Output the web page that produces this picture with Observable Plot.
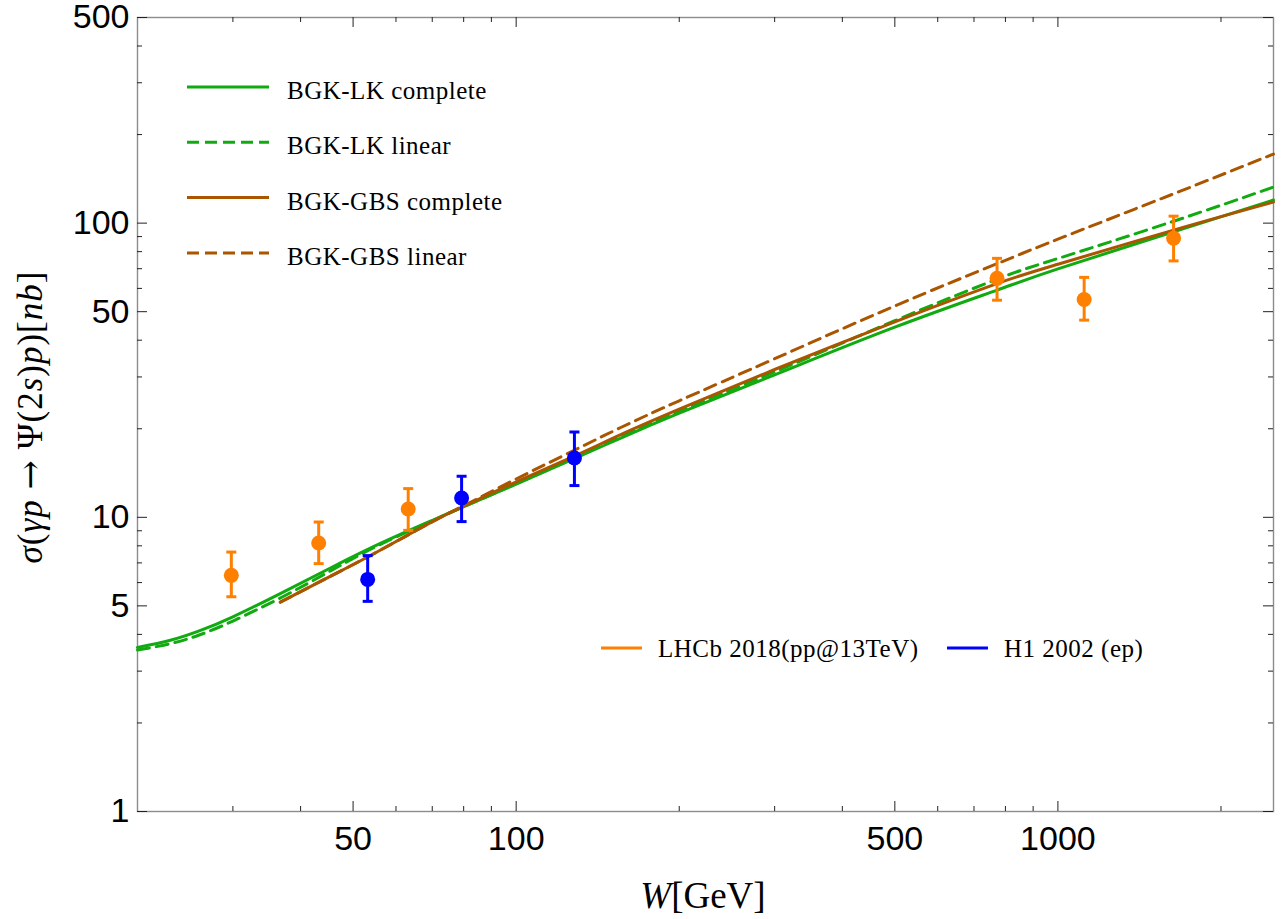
<!DOCTYPE html>
<html>
<head>
<meta charset="utf-8">
<script src="https://cdn.jsdelivr.net/npm/d3@7"></script>
<script src="https://cdn.jsdelivr.net/npm/@observablehq/plot@0.6"></script>
<style>
  body { margin: 0; background: #fff; }
  svg { display: block; }
</style>
</head>
<body>
<div id="chart"></div>
<script>
// Tick positions (W in GeV, sigma in nb)
const xMajorTicks = [50, 100, 500, 1000];
const xMinorTicks = [30, 40, 60, 70, 80, 90, 200, 300, 400, 600, 700, 800, 900, 2000];
const yMajorTicks = [1, 5, 10, 50, 100, 500];
const yMinorTicks = [2, 3, 4, 6, 7, 8, 9, 20, 30, 40, 60, 70, 80, 90, 200, 300, 400];

// LHCb 2018 (pp @ 13 TeV) measurements
const lhcbW = [29.8, 43.2, 63.2, 772, 1118, 1635];
const lhcbSigma = [6.35, 8.18, 10.67, 64.9, 55.0, 88.9];
const lhcbLow = [5.37, 6.96, 9.03, 54.7, 46.8, 74.4];
const lhcbHigh = [7.62, 9.64, 12.52, 75.9, 65.4, 105.6];

// H1 2002 (ep) measurements
const h1W = [53.2, 79.3, 128.1];
const h1Sigma = [6.15, 11.63, 15.91];
const h1Low = [5.18, 9.67, 12.82];
const h1High = [7.41, 13.79, 19.5];

// BGK-LK model curves
const lkW = [20, 23, 26, 30, 37, 45.6, 56.4, 70.6, 79.3, 100, 128, 156, 200, 300, 500, 772, 1000, 1635, 2500];
const lkComplete = [3.61, 3.82, 4.11, 4.59, 5.55, 6.75, 8.18, 9.83, 10.79, 12.96, 15.82, 18.6, 22.6, 30.5, 44.3, 59.2, 69.9, 93.4, 119.8];
const lkLinear = [3.54, 3.72, 3.98, 4.44, 5.36, 6.60, 8.12, 9.80, 10.79, 13.0, 15.9, 18.75, 22.9, 31.2, 46.6, 64.5, 75.8, 101.5, 132.6];

// BGK-GBS model curves
const gbsW = [36.7, 45, 53.2, 62, 72.2, 80, 100, 128, 156, 200, 300, 500, 772, 1000, 1635, 2500];
const gbsComplete = [5.15, 6.25, 7.33, 8.55, 9.95, 10.9, 13.2, 16.15, 19.1, 23.3, 31.8, 46.2, 62.3, 72.5, 94.7, 117.9];
const gbsLinear = [5.15, 6.25, 7.33, 8.55, 9.95, 10.95, 13.5, 16.9, 20.2, 24.9, 34.6, 52.3, 72.8, 88.2, 125.8, 171.7];

const green = "#11aa11";
const brown = "#aa5500";
const orange = "#ff8000";
const blue = "#0000ff";
const serif = "'Liberation Serif', 'DejaVu Serif', serif";

const W = 1284, H = 919;
const margin = {left: 137, right: 11, top: 17, bottom: 108};
const frameW = W - margin.left - margin.right;
const frameH = H - margin.top - margin.bottom;

const curve = (ws, vs) => ws.map((w, i) => ({w, s: vs[i]}));
const points = (ws, vs, lo, hi) => ws.map((w, i) => ({w, s: vs[i], lo: lo[i], hi: hi[i]}));

const lhcb = points(lhcbW, lhcbSigma, lhcbLow, lhcbHigh);
const h1 = points(h1W, h1Sigma, h1Low, h1High);

// horizontal cap used at the ends of the error bars
const cap = {
  draw(context, size) {
    const r = Math.sqrt(size / Math.PI);
    context.moveTo(-r, 0);
    context.lineTo(r, 0);
  }
};

const errorMarks = (data, color) => [
  Plot.ruleX(data, {x: "w", y1: "lo", y2: "hi", stroke: color, strokeWidth: 3}),
  Plot.dot(data, {x: "w", y: "lo", symbol: cap, r: 5, stroke: color, strokeWidth: 3, fill: "none"}),
  Plot.dot(data, {x: "w", y: "hi", symbol: cap, r: 5, stroke: color, strokeWidth: 3, fill: "none"}),
  Plot.dot(data, {x: "w", y: "s", r: 7.5, fill: color, stroke: "none"})
];

const chart = Plot.plot({
  width: W,
  height: H,
  marginLeft: margin.left,
  marginRight: margin.right,
  marginTop: margin.top,
  marginBottom: margin.bottom,
  style: {fontFamily: "'Liberation Sans', Arial, sans-serif", background: "#fff", color: "#000"},
  x: {type: "log", domain: [20, 2500]},
  y: {type: "log", domain: [1, 500]},
  marks: [
    Plot.frame({stroke: "#8c8c8c", strokeWidth: 1.4}),
    // inward ticks on all four sides
    Plot.tickY(yMajorTicks, {y: d => d, insetRight: frameW - 10, stroke: "#222"}),
    Plot.tickY(yMinorTicks, {y: d => d, insetRight: frameW - 5, stroke: "#222"}),
    Plot.tickY(yMajorTicks, {y: d => d, insetLeft: frameW - 10, stroke: "#222"}),
    Plot.tickY(yMinorTicks, {y: d => d, insetLeft: frameW - 5, stroke: "#222"}),
    Plot.tickX(xMajorTicks, {x: d => d, insetTop: frameH - 10, stroke: "#222"}),
    Plot.tickX(xMinorTicks, {x: d => d, insetTop: frameH - 5, stroke: "#222"}),
    Plot.tickX(xMajorTicks, {x: d => d, insetBottom: frameH - 10, stroke: "#222"}),
    Plot.tickX(xMinorTicks, {x: d => d, insetBottom: frameH - 5, stroke: "#222"}),
    Plot.axisX(xMajorTicks, {tickSize: 0, tickPadding: 14, fontSize: 34, label: null, tickFormat: d => String(d)}),
    Plot.axisY(yMajorTicks, {tickSize: 0, tickPadding: 8, fontSize: 34, label: null, tickFormat: d => String(d)}),
    // model curves
    Plot.line(curve(lkW, lkLinear), {x: "w", y: "s", stroke: green, strokeWidth: 3, strokeDasharray: "12,7", curve: "natural"}),
    Plot.line(curve(lkW, lkComplete), {x: "w", y: "s", stroke: green, strokeWidth: 3, curve: "natural"}),
    Plot.line(curve(gbsW, gbsLinear), {x: "w", y: "s", stroke: brown, strokeWidth: 3, strokeDasharray: "12,7", curve: "natural"}),
    Plot.line(curve(gbsW, gbsComplete), {x: "w", y: "s", stroke: brown, strokeWidth: 3, curve: "natural"}),
    // measurements
    ...errorMarks(lhcb, orange),
    ...errorMarks(h1, blue)
  ]
});

document.getElementById("chart").append(chart);

const svg = d3.select(chart);

// model legend (upper left)
const modelLegend = [
  {label: "BGK-LK complete", color: green, dash: null},
  {label: "BGK-LK linear", color: green, dash: "12,6"},
  {label: "BGK-GBS complete", color: brown, dash: null},
  {label: "BGK-GBS linear", color: brown, dash: "12,6"}
];
const lg = svg.append("g").attr("font-family", serif).attr("font-size", 25)
  .attr("letter-spacing", "0.5px").attr("text-anchor", "start");
modelLegend.forEach((d, i) => {
  const y = 87 + i * 55.3;
  lg.append("line").attr("x1", 187).attr("x2", 269).attr("y1", y).attr("y2", y)
    .attr("stroke", d.color).attr("stroke-width", 3).attr("stroke-dasharray", d.dash);
  lg.append("text").attr("x", 287).attr("y", y + 12).text(d.label);
});

// data legend (lower right)
const dataLegend = [
  {label: "LHCb 2018(pp@13TeV)", color: orange, x: 601},
  {label: "H1 2002 (ep)", color: blue, x: 947}
];
const dg = svg.append("g").attr("font-family", serif).attr("font-size", 25)
  .attr("letter-spacing", "0.5px").attr("text-anchor", "start");
dataLegend.forEach(d => {
  dg.append("line").attr("x1", d.x).attr("x2", d.x + 41).attr("y1", 648).attr("y2", 648)
    .attr("stroke", d.color).attr("stroke-width", 3);
  dg.append("text").attr("x", d.x + 57).attr("y", 657).text(d.label);
});

// axis titles
const xt = svg.append("text").attr("x", 703).attr("y", 908).attr("text-anchor", "middle")
  .attr("font-family", serif).attr("font-size", 37);
xt.append("tspan").attr("font-style", "italic").text("W");
xt.append("tspan").text("[GeV]");

const yt = svg.append("text").attr("transform", "translate(42,417) rotate(-90)").attr("text-anchor", "middle")
  .attr("font-family", serif).attr("font-size", 35).attr("letter-spacing", "1px");
[["σ", "i"], ["(", ""], ["γp", "i"], [" ", ""], ["→", "a"], [" Ψ(2", ""], ["s", "i"], [")", ""], ["p", "i"], [")[", ""], ["nb", "i"], ["]", ""]]
  .forEach(([t, k]) => {
    const s = yt.append("tspan").text(t);
    if (k === "i") s.attr("font-style", "italic");
    if (k === "a") s.attr("font-family", "'DejaVu Serif', serif");
  });
</script>
</body>
</html>
